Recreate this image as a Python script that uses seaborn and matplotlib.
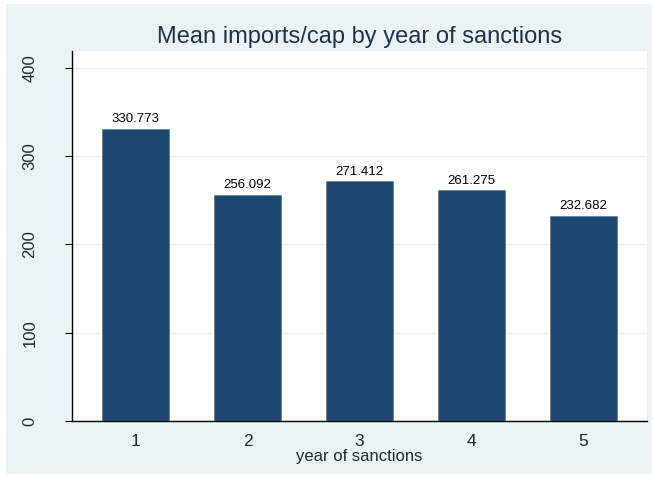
import matplotlib
matplotlib.use('Agg')
import matplotlib.pyplot as plt
from matplotlib.patches import Rectangle
import seaborn as sns
import pandas as pd

years = ['1', '2', '3', '4', '5']
mean_imports = [330.773, 256.092, 271.412, 261.275, 232.682]
y_ticks = [0, 100, 200, 300, 400]

sns.set_style('white')
plt.rcParams['font.family'] = ['Liberation Sans', 'DejaVu Sans']

bg = '#EAF2F3'
navy = '#1A476F'

df = pd.DataFrame({'year': years, 'imports': mean_imports})

fig = plt.figure(figsize=(6.52, 4.78), dpi=100)
fig.patch.set_facecolor('white')
fig.add_artist(Rectangle((6 / 652, 4 / 478), 1 - 6 / 652, 470 / 478,
                         transform=fig.transFigure, facecolor=bg,
                         edgecolor='none', zorder=-10))

ax = fig.add_axes([72 / 652, 57 / 478, 575 / 652, 370 / 478])
ax.set_facecolor('white')
sns.barplot(data=df, x='year', y='imports', color=navy, saturation=1,
            width=0.6, edgecolor='#5a7d9a', linewidth=0.5, ax=ax, zorder=3)

for cont in ax.containers:
    ax.bar_label(cont, labels=[f'{v:.3f}' for v in mean_imports],
                 padding=2.5, fontsize=9.5, color='black')

ax.set_xlim(-0.567, 4.567)
ax.set_ylim(0, 419)
ax.set_yticks(y_ticks)
ax.set_yticklabels([str(t) for t in y_ticks], rotation=90, va='center',
                   fontsize=12)
ax.tick_params(axis='y', left=True, length=5, width=0.8, color='black',
               pad=20)
ax.tick_params(axis='x', bottom=False, labelsize=12.5, pad=6)
ax.grid(axis='y', color=bg, linewidth=1, zorder=0)
ax.set_axisbelow(True)

for side in ['top', 'right']:
    ax.spines[side].set_visible(False)
for side in ['left', 'bottom']:
    ax.spines[side].set_color('black')
    ax.spines[side].set_linewidth(1)

ax.set_xlabel('year of sanctions', fontsize=12, labelpad=0)
ax.set_ylabel('')
ax.set_title('Mean imports/cap by year of sanctions', fontsize=17,
             color='#1E3250', pad=6)

fig.savefig('out.png', dpi=100)
